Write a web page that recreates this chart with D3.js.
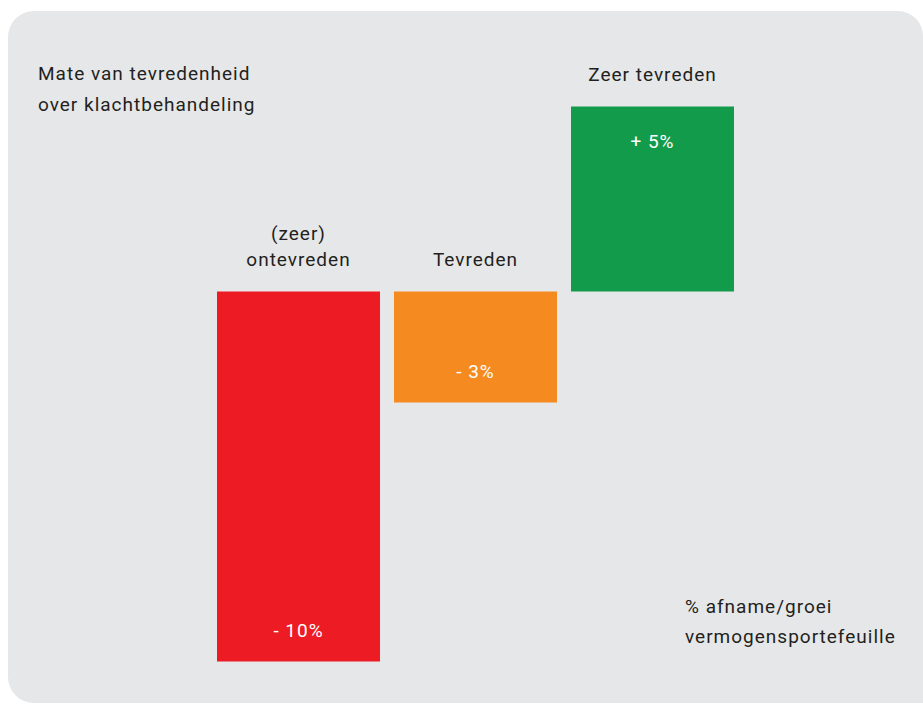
<!DOCTYPE html>
<html>
<head>
<meta charset="utf-8">
<script src="https://cdn.jsdelivr.net/npm/d3@7"></script>
<style>
  html, body { margin: 0; padding: 0; background: #ffffff; }
  svg { display: block; font-family: Roboto, "Noto Sans", sans-serif; }
  svg text { font-size: 19px; letter-spacing: 1px; font-weight: 400; }
</style>
</head>
<body>
<div id="chart"></div>
<script>
// Satisfaction with complaint handling vs. portfolio growth.
const categories = ["(zeer) ontevreden", "Tevreden", "Zeer tevreden"];
const categoryLines = [["(zeer)", "ontevreden"], ["Tevreden"], ["Zeer tevreden"]];
const values = [-10, -3, 5];
const valueLabels = ["- 10%", "- 3%", "+ 5%"];
const barColors = ["#ED1C24", "#F58B20", "#129B4A"];

const WIDTH = 923;
const HEIGHT = 704;
const TEXT = "#231F20";

const data = categories.map((c, i) => ({
    name: c,
    lines: categoryLines[i],
    value: values[i],
    label: valueLabels[i],
    color: barColors[i]
}));

const svg = d3.select("#chart")
    .append("svg")
    .attr("width", WIDTH)
    .attr("height", HEIGHT);

// Grey rounded panel behind everything.
svg.append("rect")
    .attr("x", 8)
    .attr("y", 11)
    .attr("width", 940)
    .attr("height", 692)
    .attr("rx", 26)
    .attr("fill", "#E6E7E9");
svg.append("rect")
    .attr("x", 898)
    .attr("y", 11)
    .attr("width", 25)
    .attr("height", 692)
    .attr("fill", "#E6E7E9");
svg.append("path")
    .attr("d", "M896,11 H898 A25,25 0 0 1 923,36 V11 Z")
    .attr("fill", "#ffffff");

const xScale = d3.scaleBand()
    .domain(categories)
    .range([217, 734])
    .paddingInner(0.079)
    .paddingOuter(0);

const yScale = d3.scaleLinear()
    .domain([-10, 5])
    .range([661.5, 106.5]);

const zero = yScale(0);

svg.selectAll("rect.bar")
    .data(data)
    .join("rect")
    .attr("class", "bar")
    .attr("x", d => xScale(d.name))
    .attr("y", d => Math.min(yScale(d.value), zero))
    .attr("width", xScale.bandwidth())
    .attr("height", d => Math.abs(yScale(d.value) - zero))
    .attr("fill", d => d.color);

// Value labels sit near the far end of each bar.
svg.selectAll("text.value")
    .data(data)
    .join("text")
    .attr("class", "value")
    .attr("x", d => xScale(d.name) + xScale.bandwidth() / 2)
    .attr("y", d => d.value < 0 ? yScale(d.value) - 25 : yScale(d.value) + 41)
    .attr("text-anchor", "middle")
    .attr("fill", "#ffffff")
    .text(d => d.label);

// Category names above the bar (or above the baseline for negatives).
const catGroups = svg.selectAll("g.cat")
    .data(data)
    .join("g")
    .attr("class", "cat");

catGroups.each(function (d) {
    const top = d.value < 0 ? zero : yScale(d.value);
    const n = d.lines.length;
    d3.select(this).selectAll("text")
        .data(d.lines)
        .join("text")
        .attr("x", xScale(d.name) + xScale.bandwidth() / 2)
        .attr("y", (l, i) => top - 26 - (n - 1 - i) * 26)
        .attr("text-anchor", "middle")
        .attr("fill", TEXT)
        .text(l => l);
});

// Corner titles.
const titleLines = ["Mate van tevredenheid", "over klachtbehandeling"];
svg.selectAll("text.title")
    .data(titleLines)
    .join("text")
    .attr("class", "title")
    .attr("x", 38)
    .attr("y", (d, i) => 80 + i * 31)
    .attr("fill", TEXT)
    .text(d => d);

const axisNote = ["% afname/groei", "vermogensportefeuille"];
svg.selectAll("text.note")
    .data(axisNote)
    .join("text")
    .attr("class", "note")
    .attr("x", 685)
    .attr("y", (d, i) => 613 + i * 30)
    .attr("fill", TEXT)
    .text(d => d);
</script>
</body>
</html>
